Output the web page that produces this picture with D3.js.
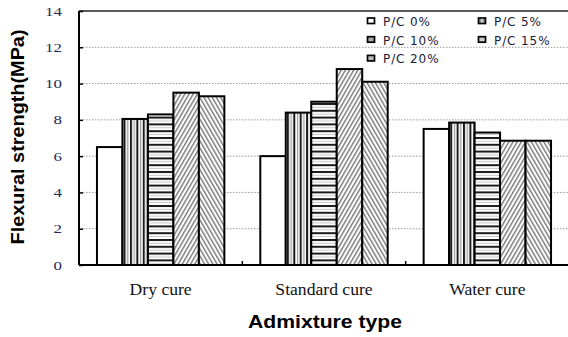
<!DOCTYPE html>
<html><head><meta charset="utf-8">
<script src="https://cdn.jsdelivr.net/npm/d3@7"></script>
<style>html,body{margin:0;padding:0;background:#fff;}svg{display:block;}</style>
</head><body>
<svg id="chart" width="568" height="337"></svg>
<script>
const categories = ["Dry cure", "Standard cure", "Water cure"];
const seriesNames = ["P/C 0%", "P/C 5%", "P/C 10%", "P/C 15%", "P/C 20%"];
const pc0  = [6.5, 6.0, 7.5];
const pc5  = [8.05, 8.4, 7.85];
const pc10 = [8.3, 9.0, 7.3];
const pc15 = [9.5, 10.8, 6.85];
const pc20 = [9.3, 10.1, 6.85];
const yTicks = [0, 2, 4, 6, 8, 10, 12, 14];
const seriesValues = [pc0, pc5, pc10, pc15, pc20];

(function () {
const svg = d3.select("#chart");
const W = 568, H = 337;
const mLeft = 79, mRight = 569, mTop = 11, mBottom = 265;

const x = d3.scaleBand().domain(categories).range([mLeft, mRight]).paddingInner(0.22).paddingOuter(0.11);
const xs = d3.scaleBand().domain(seriesNames).range([0, x.bandwidth()]).padding(0);
const y = d3.scaleLinear().domain([0, 14]).range([mBottom, mTop]);

// patterns
const defs = svg.append("defs");
const pv = defs.append("pattern").attr("id", "p5").attr("patternUnits", "userSpaceOnUse")
  .attr("width", 6.4).attr("height", 10).attr("x", 1);
pv.append("rect").attr("width", 6.4).attr("height", 10).attr("fill", "#fff");
pv.append("rect").attr("x", 0).attr("width", 2).attr("height", 10).attr("fill", "#1a1a1a");
pv.append("rect").attr("x", 3.6).attr("width", 1.3).attr("height", 10).attr("fill", "#a0a0a0");

const ph = defs.append("pattern").attr("id", "p10").attr("patternUnits", "userSpaceOnUse")
  .attr("width", 10).attr("height", 6.8).attr("y", 1);
ph.append("rect").attr("width", 10).attr("height", 6.8).attr("fill", "#fff");
ph.append("rect").attr("y", 0).attr("width", 10).attr("height", 2).attr("fill", "#1a1a1a");
ph.append("rect").attr("y", 3.8).attr("width", 10).attr("height", 1).attr("fill", "#c8c8c8");

function diag(id, angle) {
  const p = defs.append("pattern").attr("id", id).attr("patternUnits", "userSpaceOnUse")
    .attr("width", 3.6).attr("height", 10).attr("patternTransform", `rotate(${angle})`);
  p.append("rect").attr("width", 3.6).attr("height", 10).attr("fill", "#fff");
  p.append("rect").attr("x", 0).attr("width", 1.4).attr("height", 10).attr("fill", "#777");
}
diag("p15", 30);
diag("p20", -30);
const fills = ["#fff", "url(#p5)", "url(#p10)", "url(#p15)", "url(#p20)"];
const swatchFills = ["#fff", "#999", "#aaa", "#ccc", "#bbb"];

// gridlines
svg.append("g").selectAll("line").data(yTicks.filter(d => d > 0 && d < 14)).join("line")
  .attr("x1", mLeft + 4).attr("x2", W).attr("y1", d => y(d)).attr("y2", d => y(d))
  .attr("stroke", "#9a9a9a").attr("stroke-width", 1).attr("stroke-dasharray", "1.5,1.5");

// top border
svg.append("line").attr("x1", mLeft).attr("x2", W).attr("y1", mTop).attr("y2", mTop)
  .attr("stroke", "#222").attr("stroke-width", 1.5);

// bars
const groups = svg.append("g").selectAll("g").data(categories).join("g")
  .attr("transform", d => `translate(${x(d)},0)`);
groups.selectAll("rect").data((c, ci) => seriesNames.map((s, si) => ({ s, si, v: seriesValues[si][ci] })))
  .join("rect")
  .attr("x", d => xs(d.s)).attr("width", xs.bandwidth())
  .attr("y", d => y(d.v)).attr("height", d => y(0) - y(d.v))
  .attr("fill", d => fills[d.si]).attr("stroke", "#000").attr("stroke-width", 2);

// y axis
const yAxis = d3.axisLeft(y).tickValues(yTicks).tickSize(-4).tickPadding(17).tickFormat(d3.format("d"));
const gy = svg.append("g").attr("transform", `translate(${mLeft},0)`).call(yAxis);
gy.select(".domain").attr("stroke", "#000").attr("stroke-width", 2).attr("d", `M0,${mTop}V${mBottom}`);
gy.selectAll(".tick line").attr("stroke", "#000").attr("stroke-width", 1.5);
gy.selectAll(".tick text").attr("font-family", "'Liberation Serif', 'Times New Roman', serif")
  .attr("font-size", 12.5).attr("fill", "#1d2b5c")
  .each(function () { const w = this.getComputedTextLength(); d3.select(this).attr("textLength", w * 1.35).attr("lengthAdjust", "spacingAndGlyphs"); });

// x axis
svg.append("line").attr("x1", mLeft).attr("x2", W).attr("y1", mBottom).attr("y2", mBottom)
  .attr("stroke", "#000").attr("stroke-width", 2);
svg.append("g").selectAll("line").data(categories.slice(0, 2)).join("line")
  .attr("x1", d => x(d) + x.bandwidth() + x.step() * x.paddingInner() / 2)
  .attr("x2", d => x(d) + x.bandwidth() + x.step() * x.paddingInner() / 2)
  .attr("y1", mBottom).attr("y2", mBottom - 4).attr("stroke", "#000").attr("stroke-width", 1.5);
svg.append("g").selectAll("text").data(categories).join("text")
  .attr("x", d => x(d) + x.bandwidth() / 2).attr("y", 295)
  .attr("text-anchor", "middle").attr("font-family", "'Liberation Serif', 'Times New Roman', serif")
  .attr("font-size", 16).attr("fill", "#111").text(d => d)
  .each(function () { const w = this.getComputedTextLength(); d3.select(this).attr("textLength", w * 1.1).attr("lengthAdjust", "spacingAndGlyphs"); });

// titles
svg.append("text").attr("x", 325).attr("y", 328).attr("text-anchor", "middle")
  .attr("font-family", "'Liberation Sans', Arial, sans-serif").attr("font-weight", "bold")
  .attr("font-size", 19).attr("fill", "#000").attr("textLength", 154).attr("lengthAdjust", "spacingAndGlyphs")
  .text("Admixture type");
svg.append("text").attr("transform", "translate(24,137) rotate(-90)").attr("text-anchor", "middle")
  .attr("font-family", "'Liberation Sans', Arial, sans-serif").attr("font-weight", "bold")
  .attr("font-size", 19).attr("fill", "#000").attr("textLength", 215).attr("lengthAdjust", "spacingAndGlyphs")
  .text("Flexural strength(MPa)");

// legend
const leg = svg.append("g").selectAll("g").data(seriesNames).join("g")
  .attr("transform", (d, i) => `translate(${367.5 + (i % 2) * 111},${18 + Math.floor(i / 2) * 18.7})`);
leg.append("rect").attr("width", 7).attr("height", 5.5).attr("fill", (d, i) => swatchFills[i])
  .attr("stroke", "#000").attr("stroke-width", 1.7);
leg.filter((d, i) => i === 1).append("rect").attr("x", 3).attr("y", 0.6).attr("width", 1).attr("height", 4.3).attr("fill", "#eee");
leg.append("text").attr("x", 15.5).attr("y", 7.8)
  .attr("font-family", "'DejaVu Sans', Verdana, sans-serif").attr("font-size", 12)
  .attr("letter-spacing", 0.9).attr("fill", "#1a1a3a").text(d => d);
})();
</script>
</body></html>
